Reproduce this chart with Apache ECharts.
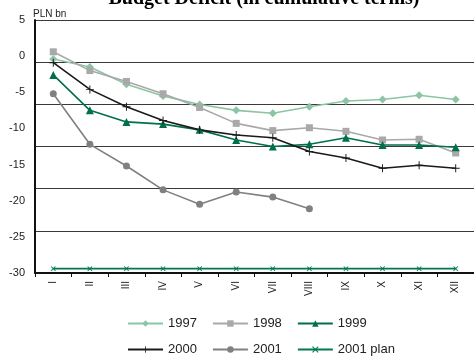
<!DOCTYPE html>
<html>
<head>
<meta charset="utf-8">
<script src="https://cdn.jsdelivr.net/npm/echarts@6/dist/echarts.min.js"></script>
<style>
  html, body { margin: 0; padding: 0; background: #fff; }
  #chart { width: 474px; height: 356px; }
</style>
</head>
<body>
<div id="chart"></div>
<script>
// Months as Roman numerals
const months = ['I', 'II', 'III', 'IV', 'V', 'VI', 'VII', 'VIII', 'IX', 'X', 'XI', 'XII'];

// Cumulative state budget balance, PLN bn
const y1997 = [-0.4, -1.5, -3.9, -5.5, -6.7, -7.5, -7.9, -7.0, -6.2, -6.0, -5.4, -6.0];
const y1998 = [0.6, -2.0, -3.5, -5.2, -7.1, -9.3, -10.3, -9.9, -10.4, -11.6, -11.5, -13.4];
const y1999 = [-2.6, -7.5, -9.1, -9.4, -10.2, -11.6, -12.5, -12.2, -11.3, -12.3, -12.3, -12.6];
const y2000 = [-0.9, -4.6, -7.0, -8.9, -10.2, -10.9, -11.3, -13.2, -14.1, -15.5, -15.1, -15.5];
const y2001 = [-5.2, -12.2, -15.2, -18.5, -20.5, -18.8, -19.5, -21.1];
const plan2001 = [-29.4, -29.4, -29.4, -29.4, -29.4, -29.4, -29.4, -29.4, -29.4, -29.4, -29.4, -29.4];

const PLUS = 'path://M4.4,0H5.6V4.4H10V5.6H5.6V10H4.4V5.6H0V4.4H4.4Z';
const CROSS = 'path://M0,1.2L1.2,0L5,3.8L8.8,0L10,1.2L6.2,5L10,8.8L8.8,10L5,6.2L1.2,10L0,8.8L3.8,5Z';

function line(name, data, color, symbol, size) {
  return {
    name: name, type: 'line', data: data,
    symbol: symbol, symbolSize: size,
    lineStyle: { color: color, width: 1.6 },
    itemStyle: { color: color },
    emphasis: { disabled: true },
    animation: false
  };
}

const chart = echarts.init(document.getElementById('chart'));
chart.setOption({
  animation: false,
  title: {
    text: 'Budget Deficit (in cumulative terms)',
    left: 259, top: -16, textAlign: 'center',
    textStyle: { fontFamily: 'Liberation Serif', fontWeight: 'bold', fontSize: 20, color: '#000' }
  },
  graphic: [{
    type: 'text', left: 33, top: 9,
    style: { text: 'PLN bn', font: '10px "Liberation Sans"', fill: '#222' }
  }],
  grid: { left: 35, right: -12, top: 20, bottom: 83 },
  xAxis: {
    type: 'category', data: months, boundaryGap: true,
    axisLine: { onZero: false, lineStyle: { color: '#111', width: 2 } },
    axisTick: { show: true, length: 4, lineStyle: { color: '#111' } },
    axisLabel: { rotate: 90, margin: 8, fontSize: 10, fontFamily: 'Liberation Sans', color: '#222' }
  },
  yAxis: [{
    type: 'value', min: -30, max: 5, interval: 5,
    axisLine: { show: true, lineStyle: { color: '#111', width: 2 } },
    axisTick: { show: false },
    splitLine: { show: false },
    axisLabel: { margin: 10, fontSize: 11, fontFamily: 'Liberation Sans', color: '#222' }
  }, {
    // horizontal rules dividing the plot into six equal bands; the top one is lighter
    type: 'value', min: -30, max: 5, interval: 35 / 6, position: 'left',
    axisLine: { show: false }, axisTick: { show: false }, axisLabel: { show: false },
    splitLine: {
      show: true,
      lineStyle: { color: ['#3a3a3a', '#3a3a3a', '#3a3a3a', '#3a3a3a', '#3a3a3a', '#3a3a3a', '#8a8a8a'], width: 1.2 }
    }
  }],
  legend: [{
    data: ['1997', '1998', '1999'],
    left: 122, top: 312, itemWidth: 35, itemHeight: 8, itemGap: 15,
    textStyle: { fontSize: 13, fontFamily: 'Liberation Sans', color: '#222' }
  }, {
    data: ['2000', '2001', '2001 plan'],
    left: 122, top: 338, itemWidth: 35, itemHeight: 8, itemGap: 15,
    textStyle: { fontSize: 13, fontFamily: 'Liberation Sans', color: '#222' }
  }],
  series: [
    line('1997', y1997, '#8cc5a5', 'diamond', 8),
    line('1998', y1998, '#a9a9a9', 'rect', 7),
    line('1999', y1999, '#00704a', 'triangle', 8),
    line('2000', y2000, '#1a1a1a', PLUS, 8),
    line('2001', y2001, '#808080', 'circle', 7),
    line('2001 plan', plan2001, '#007a4c', CROSS, 5)
  ]
});
</script>
</body>
</html>
